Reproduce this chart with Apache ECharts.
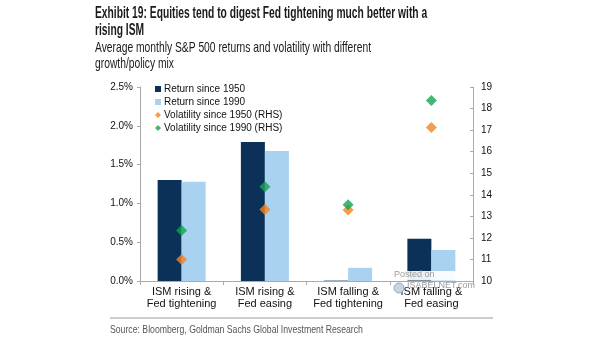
<!DOCTYPE html>
<html><head><meta charset="utf-8">
<script src="https://cdn.jsdelivr.net/npm/echarts@6/dist/echarts.min.js"></script>
<style>html,body{margin:0;padding:0;background:#fff}#c{width:605px;height:341px}</style>
</head><body><div id="c"></div>
<script>
const categories = ['ISM rising &\nFed tightening', 'ISM rising &\nFed easing', 'ISM falling &\nFed tightening', 'ISM falling &\nFed easing'];
const return1950 = [1.30, 1.79, 0.005, 0.545];
const return1990 = [1.28, 1.675, 0.17, 0.40];
const vol1950 = [11.0, 13.32, 13.29, 17.12];
const vol1990 = [12.34, 14.37, 13.54, 18.37];
const leftTicks = [0, 0.5, 1.0, 1.5, 2.0, 2.5];
const rightTicks = [10, 11, 12, 13, 14, 15, 16, 17, 18, 19];

const NAVY = '#0b3158', LIGHT = '#a9d1f0', ORANGE = '#f5821f', GREEN = '#16a354';
const chart = echarts.init(document.getElementById('c'));
const font = 'Liberation Sans, Arial, sans-serif';
function ctext(x, y, text, size, weight, color, sx, z) {
  return {type: 'text', x: x, y: y, scaleX: sx, scaleY: 1, z: z || 10,
    style: {text: text, fontFamily: font, fontSize: size, fontWeight: weight, fill: color, verticalAlign: 'middle', align: 'left'}};
}
chart.setOption({
  animation: false,
  textStyle: {fontFamily: font},
  graphic: [
    ctext(95, 14, 'Exhibit 19: Equities tend to digest Fed tightening much better with a', 16, 'bold', '#1a1a1a', 0.642),
    ctext(95, 31, 'rising ISM', 16, 'bold', '#1a1a1a', 0.642),
    ctext(95, 48, 'Average monthly S&P 500 returns and volatility with different', 14.5, 'normal', '#1a1a1a', 0.71),
    ctext(95, 64, 'growth/policy mix', 14.5, 'normal', '#1a1a1a', 0.71),
    ctext(110, 330, 'Source: Bloomberg, Goldman Sachs Global Investment Research', 11.5, 'normal', '#555', 0.755),
    {type: 'line', shape: {x1: 110, y1: 318, x2: 493, y2: 318}, style: {stroke: '#9a9a9a', lineWidth: 1}},
    {type: 'rect', z: 50, shape: {x: 393, y: 271, width: 72, height: 9.5}, style: {fill: 'rgba(255,255,255,0.92)'}},
    {type: 'circle', z: 51, shape: {cx: 399, cy: 288, r: 5}, style: {fill: '#c8d4e0', stroke: '#9aa9b8', lineWidth: 1}},
    ctext(394, 275, 'Posted on', 9, 'normal', '#9a9a9a', 1, 52),
    ctext(407, 286, 'ISABELNET.com', 9, 'normal', '#9a9a9a', 1, 52)
  ],
  legend: {
    orient: 'vertical', left: 150, top: 79, itemWidth: 6, itemHeight: 6, itemGap: 3,
    textStyle: {fontSize: 10, color: '#111', fontFamily: font, lineHeight: 10, padding: [0, 0, 0, -2]},
    data: [
      {name: 'Return since 1950', icon: 'rect'},
      {name: 'Return since 1990', icon: 'rect'},
      {name: 'Volatility since 1950 (RHS)', icon: 'diamond'},
      {name: 'Volatility since 1990 (RHS)', icon: 'diamond'}
    ]
  },
  grid: {left: 140, right: 132, top: 87, bottom: 60},
  xAxis: {
    type: 'category', data: categories,
    axisLine: {lineStyle: {color: '#aaa'}},
    axisTick: {show: true, alignWithLabel: false, length: 4, lineStyle: {color: '#aaa'}},
    axisLabel: {fontSize: 11, color: '#111', lineHeight: 12, margin: 5, interval: 0}
  },
  yAxis: [
    {type: 'value', min: 0, max: 2.5, interval: 0.5, position: 'left',
     axisLine: {show: true, lineStyle: {color: '#aaa'}},
     axisTick: {show: true, length: 3, lineStyle: {color: '#aaa'}},
     splitLine: {show: false},
     axisLabel: {fontSize: 10, color: '#111', margin: 7, formatter: v => v.toFixed(1) + '%'}},
    {type: 'value', min: 10, max: 19, interval: 1, position: 'right',
     axisLine: {show: true, lineStyle: {color: '#aaa'}},
     axisTick: {show: true, inside: true, length: 3, lineStyle: {color: '#aaa'}},
     splitLine: {show: false},
     axisLabel: {fontSize: 10, color: '#111', margin: 8}}
  ],
  series: [
    {name: 'Return since 1950', type: 'bar', data: return1950, barWidth: 24, barGap: '0%', itemStyle: {color: NAVY}},
    {name: 'Return since 1990', type: 'bar', data: return1990, barWidth: 24, itemStyle: {color: LIGHT}},
    {name: 'Volatility since 1950 (RHS)', type: 'scatter', yAxisIndex: 1, data: vol1950, symbol: 'diamond', symbolSize: 11, itemStyle: {color: ORANGE}, z: 5},
    {name: 'Volatility since 1990 (RHS)', type: 'scatter', yAxisIndex: 1, data: vol1990, symbol: 'diamond', symbolSize: 11, itemStyle: {color: GREEN}, z: 5}
  ]
});
</script></body></html>
